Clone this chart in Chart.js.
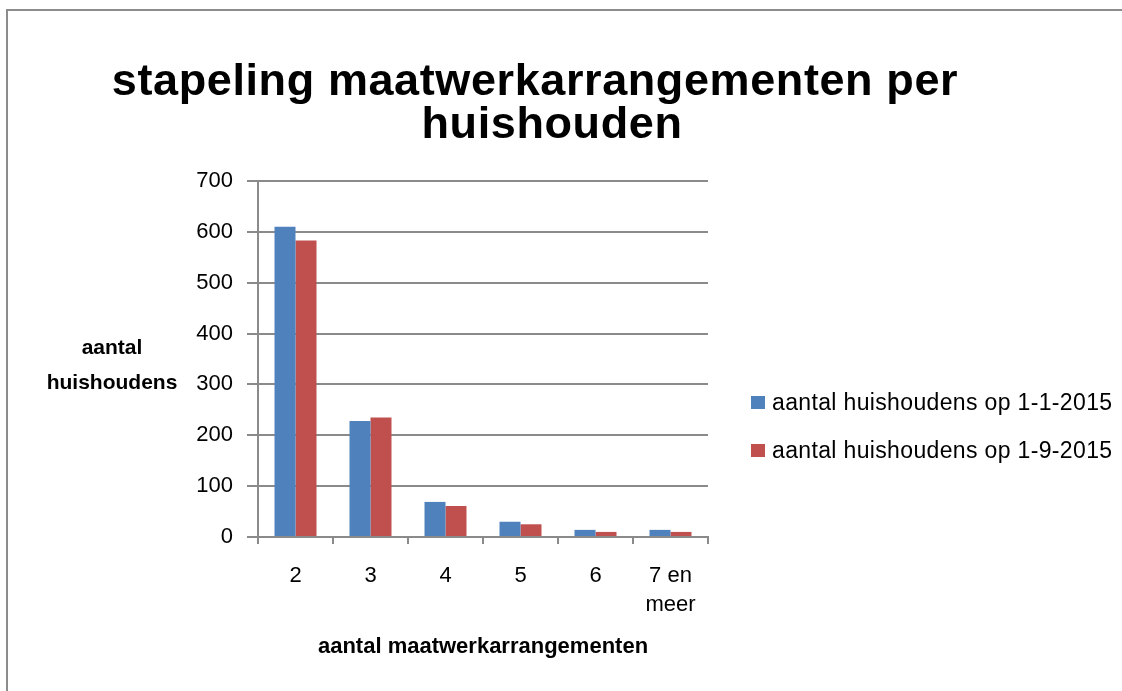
<!DOCTYPE html>
<html>
<head>
<meta charset="utf-8">
<script src="https://cdn.jsdelivr.net/npm/chart.js@4.4.1/dist/chart.umd.min.js"></script>
<style>
  html, body { margin: 0; padding: 0; background: #fff; }
  body {
    width: 1122px; height: 691px; position: relative; overflow: hidden;
    font-family: 'Liberation Sans', Arial, sans-serif; color: #000;
  }
  #frame {
    position: absolute; left: 6px; top: 9px; width: 1130px; height: 700px;
    border: 2px solid #8c8c8c; box-sizing: border-box;
  }
  canvas { position: absolute; left: 0; top: 0; }
  .title-line {
    position: absolute; left: 0; font-weight: bold; font-size: 45px;
    letter-spacing: 0.6px; line-height: 43px; white-space: nowrap; text-align: center;
  }
  #y-title {
    position: absolute; left: 37px; width: 150px; top: 329px; text-align: center;
    font-weight: bold; font-size: 21px; line-height: 35px;
  }
  #legend { position: absolute; left: 751px; top: 378px; font-size: 23px; letter-spacing: 0.35px; }
  .legend-item { height: 48px; display: flex; align-items: center; white-space: nowrap; }
  .legend-box { width: 14px; height: 13px; margin-right: 7px; }
</style>
</head>
<body>
<div id="frame"></div>
<canvas id="chart" width="1122" height="691"></canvas>
<div class="title-line" style="top:58px; width:1070px;">stapeling maatwerkarrangementen per</div>
<div class="title-line" style="top:101px; width:1104px;">huishouden</div>
<div id="y-title">aantal<br>huishoudens</div>
<div id="legend"></div>

<script>
const categories = ['2', '3', '4', '5', '6', ['7 en', 'meer']];
const seriesLabels = ['aantal huishoudens op 1-1-2015', 'aantal huishoudens op 1-9-2015'];
const seriesColors = ['#4f81bd', '#c0504d'];
const jan2015 = [610, 228, 69, 30, 14, 14];
const sep2015 = [583, 235, 61, 25, 10, 10];
const yTicks = [0, 100, 200, 300, 400, 500, 600, 700];

const axisGray = '#8a8a8a';
const fontFamily = "'Liberation Sans', Arial, sans-serif";

// legend is plain html, built from the series arrays
document.getElementById('legend').innerHTML = seriesLabels.map((label, i) => `
    <div class="legend-item">
        <span class="legend-box" style="background:${seriesColors[i]}"></span>
        <span>${label}</span>
    </div>`).join('');

new Chart(document.getElementById('chart'), {
    type: 'bar',
    data: {
        labels: categories,
        datasets: [jan2015, sep2015].map((values, i) => ({
            label: seriesLabels[i],
            data: values,
            backgroundColor: seriesColors[i],
            borderWidth: 0,
            categoryPercentage: 0.56,
            barPercentage: 1
        }))
    },
    options: {
        responsive: false,
        animation: false,
        devicePixelRatio: 1,
        layout: { padding: { left: 0, right: 414, top: 181, bottom: 0 } },
        plugins: {
            legend: { display: false },
            title: { display: false },
            tooltip: { enabled: false }
        },
        scales: {
            x: {
                afterFit: (scale) => { scale.height = 154; },
                grid: {
                    display: true,
                    drawOnChartArea: false,
                    tickLength: 7,
                    color: axisGray,
                    lineWidth: 2
                },
                border: { color: axisGray, width: 2 },
                ticks: {
                    color: '#000',
                    padding: 17,
                    font: { family: fontFamily, size: 22, lineHeight: 1.32 }
                },
                title: {
                    display: true,
                    text: 'aantal maatwerkarrangementen',
                    color: '#000',
                    padding: { top: 0, bottom: 31 },
                    font: { family: fontFamily, size: 22, weight: 'bold', lineHeight: 1.2 }
                }
            },
            y: {
                min: yTicks[0],
                max: yTicks[yTicks.length - 1],
                afterFit: (scale) => { scale.width = 258; },
                afterBuildTicks: (scale) => { scale.ticks = yTicks.map(v => ({ value: v })); },
                grid: { color: axisGray, lineWidth: 2, tickLength: 11 },
                border: { color: axisGray, width: 2 },
                ticks: {
                    color: '#000',
                    padding: 14,
                    font: { family: fontFamily, size: 22 }
                }
            }
        }
    }
});
</script>
</body>
</html>
